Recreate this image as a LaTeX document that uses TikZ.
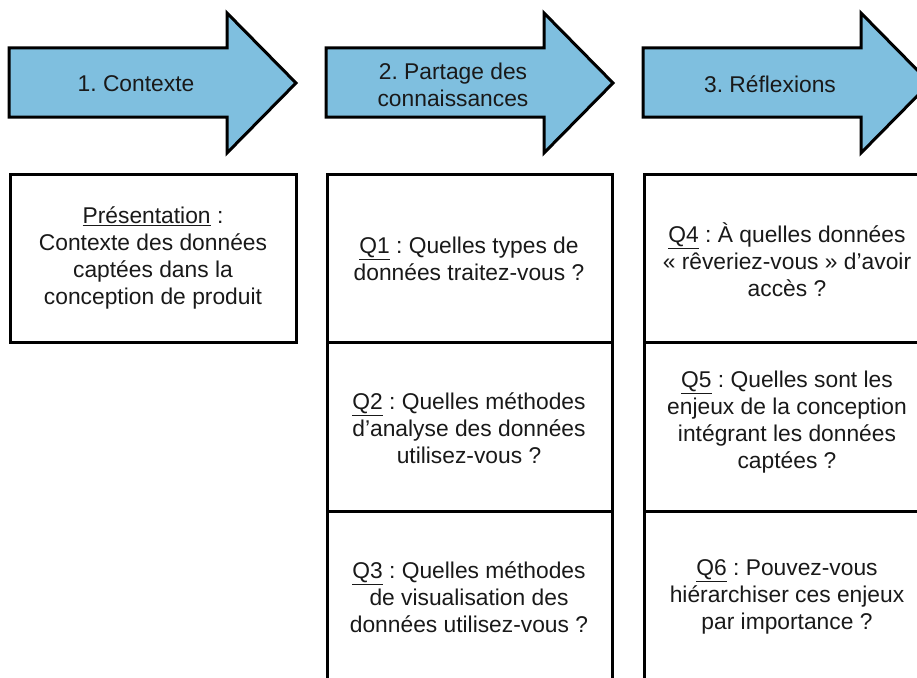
\documentclass[tikz,border=0pt]{standalone}
\usepackage{fontspec}
\setmainfont{Liberation Sans}
\frenchspacing
\definecolor{fleche}{RGB}{127,191,223}

\begin{document}
\begin{tikzpicture}[x=1pt,y=-1pt,line width=3pt]
	\tikzset{txt/.style={align=center,font=\fontsize{22.8}{27}\selectfont,text=black!90}}
	\useasboundingbox (0,0) rectangle (917,677);
	\clip (0,0) rectangle (917,677);
	\foreach \x in {9,326,643}
	{
		\filldraw[fill=fleche,line join=miter] (\x,48) -- (\x+218,48) -- (\x+218,13) -- (\x+287,83) -- (\x+218,153) -- (\x+218,117) -- (\x,117) -- cycle;
	}
	\node[txt] (etape1) at (136,84) {1. Contexte};
	\node[txt] (etape2) at (453,85) {2. Partage des\\connaissances};
	\node[txt] (etape3) at (770,84) {3. Réflexions};
	\draw (10,174) rectangle (296,342);
	\draw (327,174) rectangle (612,690);
	\draw (644,174) rectangle (929,690);
	\foreach \y in {342,511}
	{
		\draw (327,\y) -- (612,\y);
		\draw (644,\y) -- (929,\y);
	}
	\node[txt] (pres) at (153,258) {\underline{Présentation} :\\Contexte des données\\captées dans la\\conception de produit};
	\node[txt] (q1) at (469,259) {\underline{Q1} : Quelles types de\\données traitez-vous ?};
	\node[txt] (q2) at (469,428) {\underline{Q2} : Quelles méthodes\\d’analyse des données\\utilisez-vous ?};
	\node[txt] (q3) at (469,597) {\underline{Q3} : Quelles méthodes\\de visualisation des\\données utilisez-vous ?};
	\node[txt] (q4) at (787,260) {\underline{Q4} : À quelles données\\« rêveriez-vous » d’avoir\\accès ?};
	\node[txt] (q5) at (787,422) {\underline{Q5} : Quelles sont les\\enjeux de la conception\\intégrant les données\\captées ?};
	\node[txt] (q6) at (787,597) {\underline{Q6} : Pouvez-vous\\hiérarchiser ces enjeux\\par importance ?};
\end{tikzpicture}
\end{document}
